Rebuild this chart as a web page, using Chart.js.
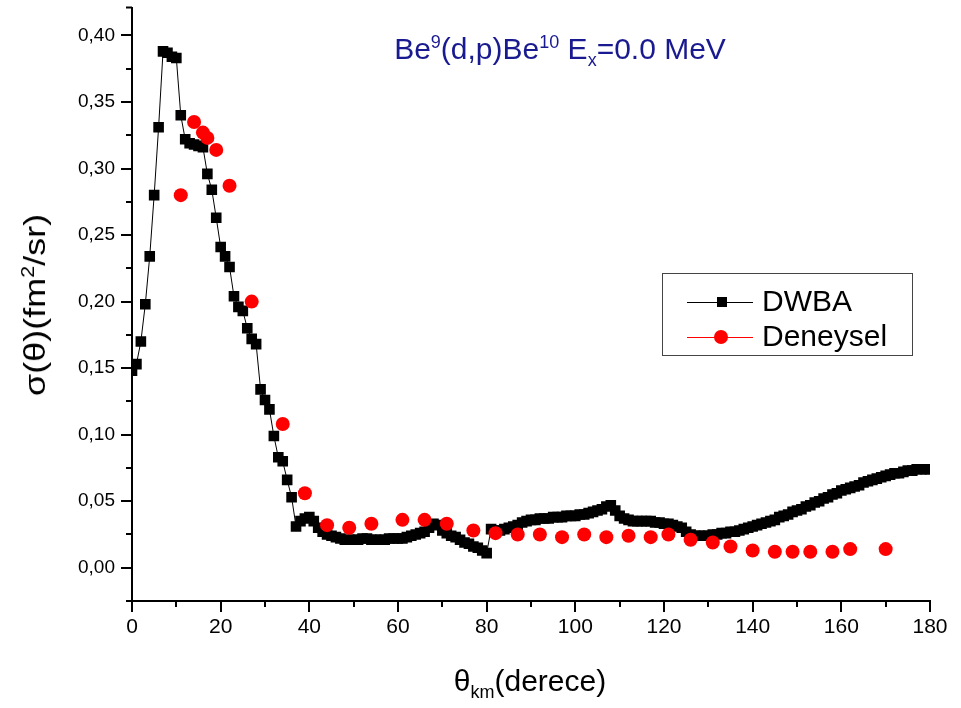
<!DOCTYPE html>
<html>
<head>
<meta charset="utf-8">
<script src="https://cdn.jsdelivr.net/npm/chart.js@4.4.1/dist/chart.umd.min.js"></script>
<style>
  body { margin: 0; background: #fff; }
  #wrap { position: relative; width: 961px; height: 708px; font-family: "Liberation Sans", Arial, sans-serif; }
  #chart { position: absolute; left: 0; top: 0; }
  .lbl { position: absolute; white-space: nowrap; color: #000; line-height: 1; }
  .lbl sup, .lbl sub { font-size: 60%; line-height: 0; }
  #title { left: 360px; top: 34px; width: 400px; text-align: center; font-size: 30px; color: #1a1a90; }
  #xtitle { left: 330px; top: 666px; width: 400px; text-align: center; font-size: 30px; }
  #ytitle { left: 35px; top: 305px; font-size: 30px; transform: translate(-50%, -50%) rotate(-90deg) scaleX(1.2); }
</style>
</head>
<body>
<div id="wrap">
  <canvas id="chart" width="961" height="708"></canvas>
  <div class="lbl" id="title">Be<sup>9</sup>(d,p)Be<sup>10</sup> E<sub>x</sub>=0.0 MeV</div>
  <div class="lbl" id="xtitle">&theta;<sub>km</sub>(derece)</div>
  <div class="lbl" id="ytitle">&sigma;(&theta;)(fm<sup>2</sup>/sr)</div>
</div>
<script>
// DWBA curve, one point per degree
const dwbaAngles = [
  0, 1, 2, 3, 4, 5, 6, 7, 8, 9, 10, 11, 12, 13, 14, 15, 16, 17, 18, 19,
  20, 21, 22, 23, 24, 25, 26, 27, 28, 29, 30, 31, 32, 33, 34, 35, 36, 37, 38, 39,
  40, 41, 42, 43, 44, 45, 46, 47, 48, 49, 50, 51, 52, 53, 54, 55, 56, 57, 58, 59,
  60, 61, 62, 63, 64, 65, 66, 67, 68, 69, 70, 71, 72, 73, 74, 75, 76, 77, 78, 79,
  80, 81, 82, 83, 84, 85, 86, 87, 88, 89, 90, 91, 92, 93, 94, 95, 96, 97, 98, 99,
  100, 101, 102, 103, 104, 105, 106, 107, 108, 109, 110, 111, 112, 113, 114, 115, 116, 117, 118, 119,
  120, 121, 122, 123, 124, 125, 126, 127, 128, 129, 130, 131, 132, 133, 134, 135, 136, 137, 138, 139,
  140, 141, 142, 143, 144, 145, 146, 147, 148, 149, 150, 151, 152, 153, 154, 155, 156, 157, 158, 159,
  160, 161, 162, 163, 164, 165, 166, 167, 168, 169, 170, 171, 172, 173, 174, 175, 176, 177, 178, 179,
  180
];
const dwbaValues = [
  0.148, 0.153, 0.170, 0.198, 0.234, 0.280, 0.331, 0.388, 0.387, 0.384, 0.383, 0.340, 0.322, 0.319, 0.318, 0.317, 0.316, 0.296, 0.284, 0.263,
  0.241, 0.234, 0.226, 0.204, 0.196, 0.193, 0.180, 0.172, 0.168, 0.134, 0.126, 0.119, 0.099, 0.083, 0.080, 0.066, 0.053, 0.031, 0.035, 0.037,
  0.038, 0.035, 0.030, 0.027, 0.025, 0.024, 0.023, 0.022, 0.021, 0.021, 0.021, 0.021, 0.022, 0.022, 0.021, 0.021, 0.021, 0.021, 0.022, 0.022,
  0.022, 0.022, 0.023, 0.024, 0.025, 0.026, 0.027, 0.030, 0.033, 0.032, 0.028, 0.026, 0.024, 0.023, 0.021, 0.019, 0.018, 0.016, 0.015, 0.013,
  0.011, 0.029, 0.028, 0.028, 0.029, 0.030, 0.031, 0.032, 0.034, 0.035, 0.036, 0.036, 0.037, 0.037, 0.037, 0.038, 0.038, 0.038, 0.039, 0.039,
  0.039, 0.040, 0.040, 0.041, 0.042, 0.043, 0.044, 0.046, 0.047, 0.043, 0.039, 0.037, 0.036, 0.035, 0.035, 0.035, 0.035, 0.035, 0.034, 0.034,
  0.033, 0.033, 0.032, 0.031, 0.030, 0.027, 0.025, 0.024, 0.024, 0.024, 0.024, 0.025, 0.025, 0.026, 0.026, 0.027, 0.027, 0.028, 0.029, 0.030,
  0.031, 0.032, 0.033, 0.034, 0.035, 0.036, 0.038, 0.039, 0.040, 0.042, 0.043, 0.044, 0.046, 0.047, 0.049, 0.050, 0.052, 0.053, 0.055, 0.056,
  0.058, 0.059, 0.060, 0.061, 0.062, 0.064, 0.065, 0.066, 0.067, 0.068, 0.069, 0.070, 0.071, 0.071, 0.072, 0.073, 0.073, 0.074, 0.074, 0.074,
  0.074
];

// experimental points (Deneysel)
const expAngles = [11, 14, 16, 17, 19, 22, 27, 34, 39, 44, 49, 54, 61, 66, 71, 77, 82, 87, 92, 97,
  102, 107, 112, 117, 121, 126, 131, 135, 140, 145, 149, 153, 158, 162, 170];
const expValues = [0.280, 0.335, 0.327, 0.323, 0.314, 0.287, 0.200, 0.108, 0.056, 0.032, 0.030, 0.033, 0.036, 0.036, 0.033, 0.028, 0.026, 0.025, 0.025, 0.023,
  0.025, 0.023, 0.024, 0.023, 0.025, 0.021, 0.019, 0.016, 0.013, 0.012, 0.012, 0.012, 0.012, 0.014, 0.014];

const xMajorTicks = [0, 20, 40, 60, 80, 100, 120, 140, 160, 180];
const yMajorTicks = [0, 0.05, 0.10, 0.15, 0.20, 0.25, 0.30, 0.35, 0.40];
const seriesNames = ["DWBA", "Deneysel"];

const FONT = '"Liberation Sans", Arial, sans-serif';

// minor ticks + legend box (Origin style)
const extras = {
  id: "extras",
  afterDraw(chart) {
    const ctx = chart.ctx;
    const xs = chart.scales.x;
    const ys = chart.scales.y;
    const a = chart.chartArea;
    ctx.save();
    ctx.strokeStyle = "#000";
    ctx.lineWidth = 2;
    ctx.beginPath();
    for (let i = 0; i < xMajorTicks.length - 1; i++) {
      const px = Math.round(xs.getPixelForValue((xMajorTicks[i] + xMajorTicks[i + 1]) / 2));
      ctx.moveTo(px, a.bottom);
      ctx.lineTo(px, a.bottom + 6);
    }
    const yMinor = [-0.025];
    for (let i = 0; i < yMajorTicks.length - 1; i++) yMinor.push((yMajorTicks[i] + yMajorTicks[i + 1]) / 2);
    yMinor.forEach((v) => {
      const py = Math.round(ys.getPixelForValue(v));
      ctx.moveTo(a.left, py);
      ctx.lineTo(a.left - 6, py);
    });
    // end tick at the top of the y axis
    ctx.moveTo(a.left, a.top);
    ctx.lineTo(a.left - 6, a.top);
    ctx.stroke();

    // legend
    const lx = 662, ly = 273, lw = 250, lh = 82;
    ctx.lineWidth = 1;
    ctx.strokeStyle = "#444";
    ctx.strokeRect(lx + 0.5, ly + 0.5, lw, lh);
    const rows = [
      { y: ly + 29, color: "#000", shape: "rect" },
      { y: ly + 64, color: "#ff0000", shape: "circle" },
    ];
    ctx.font = "30px " + FONT;
    ctx.textBaseline = "middle";
    rows.forEach((r, i) => {
      ctx.strokeStyle = r.color;
      ctx.beginPath();
      ctx.moveTo(lx + 25, r.y + 0.5);
      ctx.lineTo(lx + 91, r.y + 0.5);
      ctx.stroke();
      ctx.fillStyle = r.color;
      if (r.shape === "rect") {
        ctx.fillRect(lx + 55, r.y - 5, 10, 10);
      } else {
        ctx.beginPath();
        ctx.arc(lx + 59, r.y, 7, 0, Math.PI * 2);
        ctx.fill();
      }
      ctx.fillStyle = "#000";
      ctx.fillText(seriesNames[i], lx + 100, r.y + 1);
    });
    ctx.restore();
  },
};

new Chart(document.getElementById("chart"), {
  type: "scatter",
  data: {
    datasets: [
      {
        label: seriesNames[0],
        data: dwbaAngles.map((x, i) => ({ x: x, y: dwbaValues[i] })),
        showLine: true,
        borderColor: "#000",
        borderWidth: 1,
        backgroundColor: "#000",
        pointStyle: "rect",
        pointRadius: 7.5,
        pointBorderWidth: 0,
        order: 1,
      },
      {
        label: seriesNames[1],
        data: expAngles.map((x, i) => ({ x: x, y: expValues[i] })),
        showLine: false,
        borderColor: "#ff0000",
        backgroundColor: "#ff0000",
        pointStyle: "circle",
        pointRadius: 7,
        pointBorderWidth: 0,
        order: 0,
      },
    ],
  },
  options: {
    responsive: false,
    animation: false,
    layout: { padding: { top: 5, right: 31, bottom: 0, left: 0 } },
    plugins: {
      legend: { display: false },
      tooltip: { enabled: false },
    },
    scales: {
      x: {
        type: "linear",
        min: 0,
        max: 180,
        afterBuildTicks: (s) => { s.ticks = xMajorTicks.map((v) => ({ value: v })); },
        afterFit: (s) => { s.height = 107; s.paddingLeft = 0; },
        ticks: {
          color: "#000",
          font: { family: '"Liberation Sans Narrow", "Liberation Sans", Arial', size: 21 },
          padding: 3,
          maxRotation: 0,
          autoSkip: false,
        },
        grid: { display: true, drawOnChartArea: false, drawTicks: true, tickLength: 11, color: "#000", lineWidth: 2 },
        border: { display: true, color: "#000", width: 2 },
      },
      y: {
        type: "linear",
        min: -0.025,
        max: 0.421,
        afterBuildTicks: (s) => { s.ticks = yMajorTicks.map((v) => ({ value: v })); },
        afterFit: (s) => { s.width = 132; s.paddingTop = 0; s.paddingBottom = 0; },
        ticks: {
          color: "#000",
          font: { family: FONT, size: 19 },
          padding: 6,
          callback: (v) => v.toFixed(2).replace(".", ","),
        },
        grid: { display: true, drawOnChartArea: false, drawTicks: true, tickLength: 11, color: "#000", lineWidth: 2 },
        border: { display: true, color: "#000", width: 2 },
      },
    },
  },
  plugins: [extras],
});
</script>
</body>
</html>
